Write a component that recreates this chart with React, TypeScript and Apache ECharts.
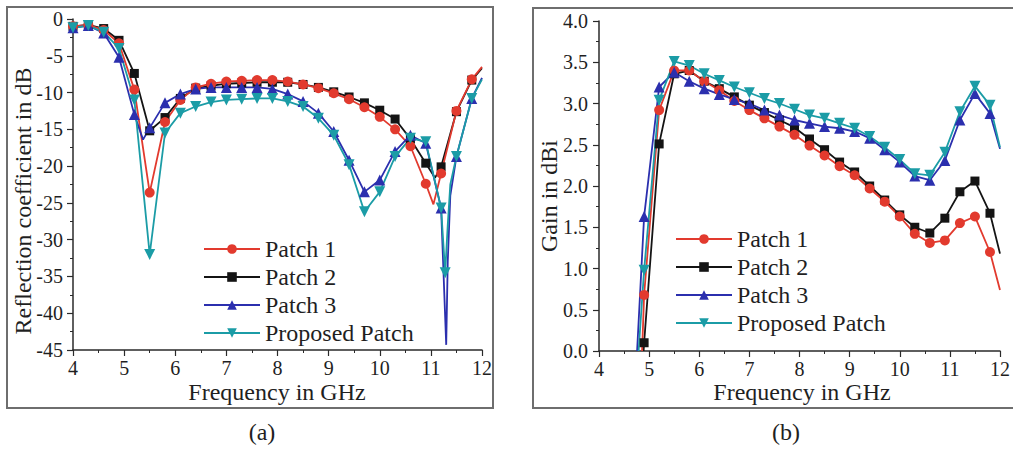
import React, { useEffect, useRef } from "react";
import * as echarts from "echarts";

type Pt = [number, number];

const seriesNames = ["Patch 1", "Patch 2", "Patch 3", "Proposed Patch"];
const seriesColors = ["#e23a2e", "#141414", "#2b2fae", "#1b9ca6"];
const seriesSymbols = ["circle", "rect", "triangle", "triangle"];
const seriesSymbolRotate = [0, 0, 0, 180];
const seriesSymbolSize = [10, 9, 11, 11];

// (a) reflection coefficient (dB) vs frequency (GHz): marked samples, then unmarked detail points
const s11Patch1: Pt[] = [
  [4.0, -1.0], [4.3, -0.8], [4.6, -1.5], [4.9, -3.3], [5.2, -9.6], [5.5, -23.6], [5.8, -14.0],
  [6.1, -11.0], [6.4, -9.3], [6.7, -8.8], [7.0, -8.5], [7.3, -8.4], [7.6, -8.3], [7.9, -8.3],
  [8.2, -8.5], [8.5, -8.9], [8.8, -9.4], [9.1, -10.1], [9.4, -10.9], [9.7, -12.0], [10.0, -13.3],
  [10.3, -15.0], [10.6, -17.3], [10.9, -22.4], [11.2, -21.0], [11.5, -12.5], [11.8, -8.2],
];
const s11Patch1Extra: Pt[] = [[11.05, -25.2], [12.0, -6.5]];

const s11Patch2: Pt[] = [
  [4.0, -1.0], [4.3, -0.8], [4.6, -1.3], [4.9, -2.9], [5.2, -7.4], [5.5, -15.2], [5.8, -13.4],
  [6.1, -10.8], [6.4, -9.4], [6.7, -9.1], [7.0, -8.8], [7.3, -8.7], [7.6, -8.6], [7.9, -8.6],
  [8.2, -8.6], [8.5, -8.9], [8.8, -9.3], [9.1, -9.9], [9.4, -10.6], [9.7, -11.4], [10.0, -12.4],
  [10.3, -13.6], [10.6, -16.3], [10.9, -19.6], [11.2, -20.1], [11.5, -12.6], [11.8, -8.3],
];
const s11Patch2Extra: Pt[] = [[11.08, -21.6], [12.0, -6.7]];

const s11Patch3: Pt[] = [
  [4.0, -1.2], [4.3, -0.9], [4.6, -1.9], [4.9, -5.2], [5.2, -13.0], [5.5, -14.8], [5.8, -11.4],
  [6.1, -10.2], [6.4, -9.5], [6.7, -9.3], [7.0, -9.3], [7.3, -9.3], [7.6, -9.3], [7.9, -9.5],
  [8.2, -10.2], [8.5, -11.2], [8.8, -12.8], [9.1, -15.3], [9.4, -19.2], [9.7, -23.5], [10.0, -21.9],
  [10.3, -18.0], [10.6, -15.8], [10.9, -16.9], [11.2, -25.7], [11.5, -18.7], [11.8, -10.8],
];
const s11Patch3Extra: Pt[] = [[5.37, -16.4], [11.3, -44.3], [11.33, -33.0], [11.38, -24.0], [12.0, -8.0]];

const s11Proposed: Pt[] = [
  [4.0, -1.2], [4.3, -0.9], [4.6, -1.8], [4.9, -4.0], [5.2, -11.0], [5.5, -32.0], [5.8, -15.5],
  [6.1, -12.8], [6.4, -11.9], [6.7, -11.3], [7.0, -11.0], [7.3, -10.9], [7.6, -10.8], [7.9, -10.8],
  [8.2, -11.2], [8.5, -11.9], [8.8, -13.5], [9.1, -15.8], [9.4, -19.8], [9.7, -26.2], [10.0, -23.5],
  [10.3, -18.7], [10.6, -16.2], [10.9, -16.7], [11.2, -25.7], [11.28, -34.5], [11.5, -18.7], [11.8, -10.8],
];
const s11ProposedExtra: Pt[] = [[11.33, -28.0], [11.38, -22.5], [12.0, -8.2]];

// (b) gain (dBi) vs frequency (GHz)
const gainPatch1: Pt[] = [
  [4.9, 0.68], [5.2, 2.92], [5.5, 3.40], [5.8, 3.40], [6.1, 3.27], [6.4, 3.16], [6.7, 3.03],
  [7.0, 2.92], [7.3, 2.82], [7.6, 2.72], [7.9, 2.62], [8.2, 2.49], [8.5, 2.37], [8.8, 2.24],
  [9.1, 2.13], [9.4, 1.97], [9.7, 1.81], [10.0, 1.63], [10.3, 1.42], [10.6, 1.31], [10.9, 1.34],
  [11.2, 1.55], [11.5, 1.63], [11.8, 1.20],
];
const gainPatch1Extra: Pt[] = [[4.86, 0.0], [12.0, 0.74]];

const gainPatch2: Pt[] = [
  [4.9, 0.1], [5.2, 2.51], [5.5, 3.36], [5.8, 3.40], [6.1, 3.27], [6.4, 3.18], [6.7, 3.08],
  [7.0, 2.98], [7.3, 2.89], [7.6, 2.80], [7.9, 2.71], [8.2, 2.57], [8.5, 2.44], [8.8, 2.29],
  [9.1, 2.17], [9.4, 2.00], [9.7, 1.83], [10.0, 1.65], [10.3, 1.50], [10.6, 1.43], [10.9, 1.61],
  [11.2, 1.93], [11.5, 2.06], [11.8, 1.67],
];
const gainPatch2Extra: Pt[] = [[4.89, 0.0], [12.0, 1.18]];

const gainPatch3: Pt[] = [
  [4.9, 1.63], [5.2, 3.20], [5.5, 3.38], [5.8, 3.27], [6.1, 3.18], [6.4, 3.11], [6.7, 3.05],
  [7.0, 3.00], [7.3, 2.92], [7.6, 2.86], [7.9, 2.80], [8.2, 2.76], [8.5, 2.72], [8.8, 2.70],
  [9.1, 2.66], [9.4, 2.58], [9.7, 2.44], [10.0, 2.29], [10.3, 2.12], [10.6, 2.07], [10.9, 2.31],
  [11.2, 2.80], [11.5, 3.12], [11.8, 2.88],
];
const gainPatch3Extra: Pt[] = [[4.76, 0.0], [12.0, 2.45]];

const gainProposed: Pt[] = [
  [4.9, 0.98], [5.2, 3.04], [5.5, 3.51], [5.8, 3.46], [6.1, 3.36], [6.4, 3.28], [6.7, 3.20],
  [7.0, 3.13], [7.3, 3.06], [7.6, 3.00], [7.9, 2.93], [8.2, 2.86], [8.5, 2.82], [8.8, 2.76],
  [9.1, 2.70], [9.4, 2.60], [9.7, 2.47], [10.0, 2.32], [10.3, 2.15], [10.6, 2.13], [10.9, 2.41],
  [11.2, 2.90], [11.5, 3.21], [11.8, 2.98],
];
const gainProposedExtra: Pt[] = [[4.79, 0.0], [12.0, 2.47]];

const freqRange = { min: 4, max: 12, interval: 1 };
const s11Range = { min: -45, max: 0, interval: 5 };
const gainRange = { min: 0, max: 4, interval: 0.5 };

const xTitle = "Frequency in GHz";
const s11Title = "Reflection coefficient in dB";
const gainTitle = "Gain in dBi";
const captions = ["(a)", "(b)"];

const FONT = "Liberation Serif";
const INK = "#1f1f1f";

function merge(marked: Pt[], extra: Pt[]) {
  return [
    ...marked.map((p) => ({ value: p })),
    ...extra.map((p) => ({ value: p, symbol: "none" })),
  ].sort((a, b) => a.value[0] - b.value[0]);
}

// Patch 2 is drawn first so the red curve sits on top where they coincide
const drawOrder = [1, 0, 2, 3];

function makeSeries(sets: [Pt[], Pt[]][], axisIndex: number) {
  return drawOrder.map((i) => ({
    type: "line",
    name: seriesNames[i],
    xAxisIndex: axisIndex,
    yAxisIndex: axisIndex,
    data: merge(sets[i][0], sets[i][1]),
    symbol: seriesSymbols[i],
    symbolSize: seriesSymbolSize[i],
    symbolRotate: seriesSymbolRotate[i],
    showSymbol: true,
    clip: true,
    lineStyle: { color: seriesColors[i], width: 1.8 },
    itemStyle: { color: seriesColors[i] },
    emphasis: { disabled: true },
  }));
}

const axisCommon = {
  type: "value",
  axisLine: { show: true, onZero: false, lineStyle: { color: "#2a2a2a", width: 1.5 } },
  axisTick: { show: true, inside: false, length: 6, lineStyle: { color: "#2a2a2a", width: 1.2 } },
  minorTick: { show: true, splitNumber: 2, length: 3, lineStyle: { color: "#2a2a2a", width: 1 } },
  splitLine: { show: false },
  minorSplitLine: { show: false },
};

const labelStyle = { fontFamily: FONT, fontSize: 20, color: INK };

export default function App() {
  const ref = useRef<HTMLDivElement>(null);

  useEffect(() => {
    if (!ref.current) return;
    const chart = echarts.init(ref.current, undefined, { renderer: "svg" });

    const legendCommon = {
      orient: "vertical",
      data: seriesNames,
      itemWidth: 56,
      itemHeight: 12,
      itemGap: 4,
      selectedMode: false,
      textStyle: { fontFamily: FONT, fontSize: 24, color: INK, lineHeight: 24 },
    };

    const titleStyle = (text: string) => ({
      text,
      fontFamily: FONT,
      fontSize: 24,
      fill: INK,
      textAlign: "center",
      textVerticalAlign: "middle",
    });

    chart.setOption({
      animation: false,
      backgroundColor: "#ffffff",
      grid: [
        { left: 73, top: 19, width: 409, height: 331 },
        { left: 599, top: 21, width: 407, height: 330 },
      ],
      xAxis: [
        { ...axisCommon, gridIndex: 0, ...freqRange, axisLabel: { ...labelStyle, margin: 8 } },
        { ...axisCommon, gridIndex: 1, ...freqRange, axisLabel: { ...labelStyle, margin: 8 } },
      ],
      yAxis: [
        { ...axisCommon, gridIndex: 0, ...s11Range, axisLabel: { ...labelStyle, margin: 10 } },
        {
          ...axisCommon,
          gridIndex: 1,
          ...gainRange,
          axisLabel: { ...labelStyle, margin: 11, formatter: (v: number) => v.toFixed(1) },
        },
      ],
      legend: [
        { ...legendCommon, left: 198, top: 232 },
        { ...legendCommon, left: 670, top: 222 },
      ],
      series: [
        ...makeSeries(
          [
            [s11Patch1, s11Patch1Extra],
            [s11Patch2, s11Patch2Extra],
            [s11Patch3, s11Patch3Extra],
            [s11Proposed, s11ProposedExtra],
          ],
          0
        ),
        ...makeSeries(
          [
            [gainPatch1, gainPatch1Extra],
            [gainPatch2, gainPatch2Extra],
            [gainPatch3, gainPatch3Extra],
            [gainProposed, gainProposedExtra],
          ],
          1
        ),
      ],
      graphic: [
        {
          type: "rect",
          shape: { x: 7, y: 7, width: 486, height: 401 },
          style: { fill: "none", stroke: "#6e6e6e", lineWidth: 2 },
          silent: true,
        },
        {
          type: "rect",
          shape: { x: 533, y: 8, width: 520, height: 400 },
          style: { fill: "none", stroke: "#6e6e6e", lineWidth: 2 },
          silent: true,
        },
        { type: "text", x: 23, y: 201, rotation: Math.PI / 2, style: titleStyle(s11Title) },
        { type: "text", x: 549, y: 196, rotation: Math.PI / 2, style: titleStyle(gainTitle) },
        { type: "text", x: 277, y: 392, style: titleStyle(xTitle) },
        { type: "text", x: 802, y: 392, style: titleStyle(xTitle) },
        { type: "text", x: 262, y: 432, style: titleStyle(captions[0]) },
        { type: "text", x: 786, y: 432, style: titleStyle(captions[1]) },
      ],
    });

    return () => chart.dispose();
  }, []);

  return (
    <div
      ref={ref}
      style={{ position: "absolute", left: 0, top: 0, width: 1013, height: 450, background: "#ffffff" }}
    />
  );
}
